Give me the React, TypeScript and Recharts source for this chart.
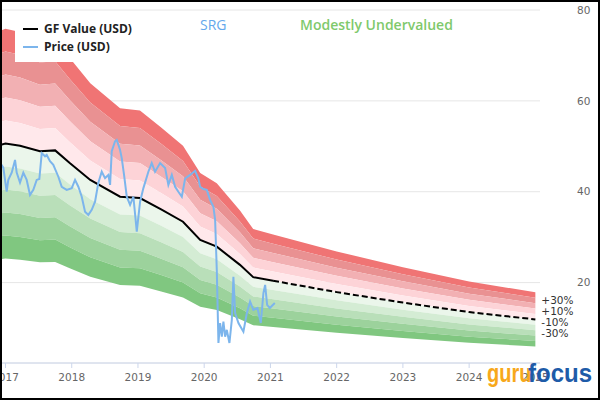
import { ComposedChart, Area, Line, XAxis, YAxis, CartesianGrid, ReferenceDot } from "recharts";

// GF Value history (solid) and projection (dashed)
const gfDates = [2016.917, 2017.0, 2017.22, 2017.52, 2017.75, 2017.97, 2018.28, 2018.73, 2019.03, 2019.35, 2019.68, 2019.94, 2020.19, 2020.54, 2020.74, 2021.04];
const gfValues = [50.3, 50.6, 50.1, 48.9, 49.1, 46.3, 42.6, 38.9, 38.6, 36.1, 33.4, 29.4, 27.9, 23.9, 21.2, 20.4];
const projDates = [2021.04, 2022, 2023, 2024, 2025.0];
const projValues = [20.4, 17.9, 15.6, 13.5, 11.9];

// SRG price
const priceDates = [
  2016.917, 2016.967, 2017.018, 2017.042, 2017.094, 2017.144, 2017.169, 2017.219, 2017.269, 2017.32,
  2017.37, 2017.42, 2017.471, 2017.511, 2017.547, 2017.597, 2017.622, 2017.672, 2017.722, 2017.798,
  2017.849, 2017.924, 2018.0, 2018.05, 2018.1, 2018.151, 2018.201, 2018.251, 2018.302, 2018.352,
  2018.402, 2018.453, 2018.503, 2018.553, 2018.579, 2018.604, 2018.654, 2018.68, 2018.73, 2018.755,
  2018.79, 2018.831, 2018.881, 2018.931, 2018.982, 2019.032, 2019.082, 2019.157, 2019.208, 2019.258,
  2019.334, 2019.41, 2019.459, 2019.511, 2019.561, 2019.61, 2019.662, 2019.712, 2019.787, 2019.863,
  2019.912, 2019.938, 2019.988, 2020.039, 2020.089, 2020.139, 2020.165, 2020.19, 2020.215, 2020.24,
  2020.266, 2020.29, 2020.316, 2020.341, 2020.381, 2020.417, 2020.441, 2020.467, 2020.517, 2020.592,
  2020.644, 2020.693, 2020.743, 2020.804, 2020.855, 2020.894, 2020.92, 2020.95, 2020.991, 2021.066,
];
const priceValues = [
  46.4, 45.3, 40.0, 42.6, 44.2, 47.0, 44.2, 42.0, 44.2, 42.6,
  39.3, 40.4, 42.6, 42.8, 48.5, 47.8, 48.1, 46.7, 45.9, 43.3,
  41.1, 40.4, 40.8, 42.6, 41.1, 38.9, 35.6, 34.9, 36.0, 37.8,
  42.0, 44.4, 43.0, 43.7, 41.5, 48.9, 51.1, 51.4, 49.2, 47.4,
  43.7, 38.9, 37.1, 38.9, 31.2, 37.8, 40.8, 44.4, 46.3, 44.4,
  46.3, 45.2, 41.5, 43.7, 41.1, 40.0, 38.9, 42.9, 43.7, 44.6,
  42.9, 41.1, 40.6, 40.4, 38.2, 36.7, 33.8, 22.8, 6.7, 11.1,
  8.1, 11.4, 8.1, 9.6, 6.7, 11.8, 21.3, 13.3, 11.1, 9.2,
  13.3, 15.8, 14.0, 14.4, 11.1, 17.7, 19.5, 15.1, 14.4, 15.5,
];

const yearTicks = [2017, 2018, 2019, 2020, 2021, 2022, 2023, 2024, 2025];
const priceTicks = [20, 40, 60, 80];

const upperBands = [
  { key: "u5", lo: 1.4, hi: 1.5, color: "#f07474" },
  { key: "u4", lo: 1.3, hi: 1.4, color: "#e99192" },
  { key: "u3", lo: 1.2, hi: 1.3, color: "#f2b0b3" },
  { key: "u2", lo: 1.1, hi: 1.2, color: "#fdd3d7" },
  { key: "u1", lo: 1.0, hi: 1.1, color: "#ffe8eb" },
];
const lowerBands = [
  { key: "l1", lo: 0.9, hi: 1.0, color: "#ebf6eb" },
  { key: "l2", lo: 0.8, hi: 0.9, color: "#d4ecd4" },
  { key: "l3", lo: 0.7, hi: 0.8, color: "#b9dfb9" },
  { key: "l4", lo: 0.6, hi: 0.7, color: "#9cd29c" },
  { key: "l5", lo: 0.5, hi: 0.6, color: "#80c780" },
];
const bands = [...upperBands, ...lowerBands];

const pctLabels = [
  { text: "+30%", mult: 1.3 },
  { text: "+10%", mult: 1.1 },
  { text: "-10%", mult: 0.9 },
  { text: "-30%", mult: 0.7 },
];

const allDates = [...gfDates, ...projDates.slice(1)];
const allGf = [...gfValues, ...projValues.slice(1)];
const bandData = allDates.map((date, i) => {
  const row: any = { date };
  bands.forEach((b) => {
    row[b.key] = [allGf[i] * b.lo, allGf[i] * b.hi];
  });
  return row;
});
const gfData = gfDates.map((date, i) => ({ date, gf: gfValues[i] }));
const projData = projDates.map((date, i) => ({ date, gf: projValues[i] }));
const priceData = priceDates.map((date, i) => ({ date, price: priceValues[i] }));
const lastDate = projDates[projDates.length - 1];
const lastGf = projValues[projValues.length - 1];

export default function App() {
  return (
    <div style={{ position: "absolute", left: 0, top: 0, width: 600, height: 400, background: "#fff" }}>
      <ComposedChart width={600} height={400} margin={{ top: 10, right: 0, bottom: 0, left: 0 }}>
        <CartesianGrid vertical={false} stroke="#e6e6e6" />
        <XAxis
          dataKey="date"
          type="number"
          domain={[2016.917, 2025.07]}
          allowDataOverflow
          ticks={yearTicks}
          interval={0}
          tickFormatter={(v) => String(v)}
          stroke="#ccd6eb"
          height={37}
          tickSize={5}
          tickMargin={6}
          tick={{ fill: "#666", fontSize: 10.5, fontFamily: "DejaVu Sans" }}
        />
        <YAxis
          orientation="right"
          width={60}
          domain={[2.3, 80]}
          allowDataOverflow
          ticks={priceTicks}
          axisLine={false}
          tickLine={false}
          tickSize={0}
          tickMargin={37}
          tick={{ fill: "#666", fontSize: 10.5, fontFamily: "DejaVu Sans", textAnchor: "start" }}
        />
        {bands.map((b) => (
          <Area
            key={b.key}
            data={bandData}
            dataKey={b.key}
            type="linear"
            stroke="none"
            fill={b.color}
            fillOpacity={1}
            isAnimationActive={false}
            dot={false}
            activeDot={false}
          />
        ))}
        <Line data={gfData} dataKey="gf" type="linear" stroke="#000" strokeWidth={2} dot={false} isAnimationActive={false} />
        <Line data={projData} dataKey="gf" type="linear" stroke="#000" strokeWidth={2} strokeDasharray="6 3" dot={false} isAnimationActive={false} />
        <Line data={priceData} dataKey="price" type="linear" stroke="#7cb5ec" strokeWidth={2} dot={false} isAnimationActive={false} />
        {pctLabels.map((p) => (
          <ReferenceDot
            key={p.text}
            x={lastDate}
            y={lastGf * p.mult}
            r={0}
            shape={(props: any) => (
              <text x={props.cx + 6} y={props.cy - 3} dominantBaseline="central" fontSize={10.5} fontFamily="DejaVu Sans" fill="#333">
                {p.text}
              </text>
            )}
          />
        ))}
      </ComposedChart>

      <div style={{ position: "absolute", left: 15, top: 12, width: 125, height: 50, background: "#fff" }} />
      <div style={{ position: "absolute", left: 23, top: 28, width: 15, height: 2, background: "#000" }} />
      <div style={{ position: "absolute", left: 23, top: 46, width: 15, height: 2, background: "#7cb5ec" }} />
      <div style={{ position: "absolute", left: 44, top: 20, lineHeight: "18px", fontFamily: "Open Sans", fontWeight: 700, fontSize: 12, color: "#222", whiteSpace: "nowrap" }}>
        GF Value (USD)
      </div>
      <div style={{ position: "absolute", left: 44, top: 38, lineHeight: "18px", fontFamily: "Open Sans", fontWeight: 700, fontSize: 12, color: "#222", whiteSpace: "nowrap" }}>
        Price (USD)
      </div>
      <div style={{ position: "absolute", left: 200, top: 15, lineHeight: "20px", fontFamily: "Open Sans", fontSize: 14, color: "#64a8ec", whiteSpace: "nowrap" }}>
        SRG
      </div>
      <div style={{ position: "absolute", left: 300, top: 15, lineHeight: "20px", fontFamily: "Open Sans", fontWeight: 600, fontSize: 14, color: "#80c96c", whiteSpace: "nowrap" }}>
        Modestly Undervalued
      </div>
      <div style={{ position: "absolute", left: 487, top: 357, width: 112, lineHeight: "32px", fontWeight: 700, fontSize: 25, whiteSpace: "nowrap", fontFamily: "Liberation Sans" }}>
        <span style={{ display: "inline-block", color: "#f7a81b", transform: "scaleX(0.8)", transformOrigin: "left", width: 41 }}>guru</span>
        <span style={{ display: "inline-block", color: "#1e5ba8", transform: "scaleX(0.96)", transformOrigin: "left" }}>focus</span>
      </div>
      <div style={{ position: "absolute", left: 0, top: 0, width: 600, height: 400, boxSizing: "border-box", border: "2px solid #000", pointerEvents: "none" }} />
    </div>
  );
}
